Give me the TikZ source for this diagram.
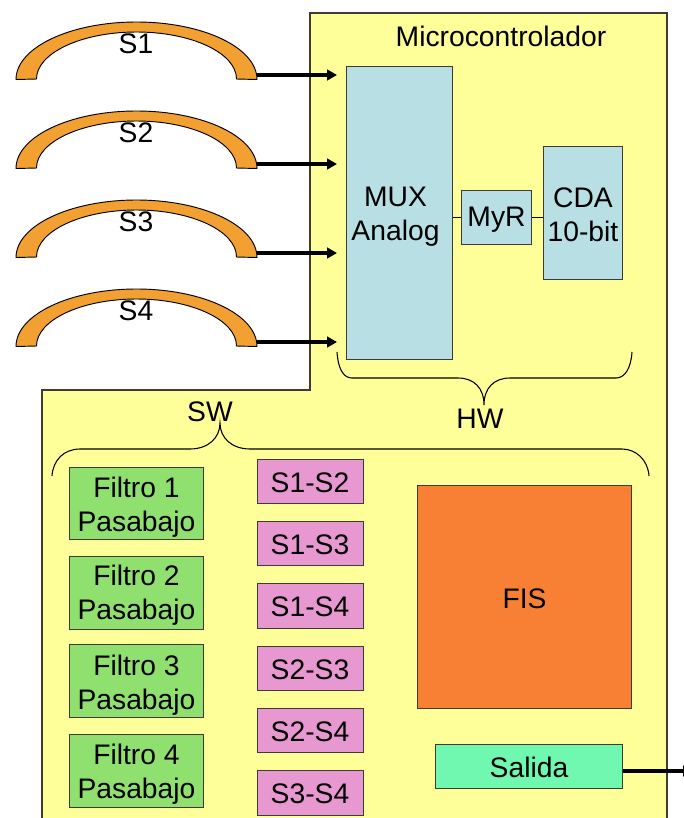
\documentclass[tikz,border=0pt]{standalone}
\usepackage{fontspec}
\setmainfont{Liberation Sans}
\usetikzlibrary{arrows.meta}
\definecolor{panelc}{RGB}{255,255,153}
\definecolor{bluec}{RGB}{184,224,228}
\definecolor{greenc}{RGB}{144,224,112}
\definecolor{pinkc}{RGB}{232,152,208}
\definecolor{orangec}{RGB}{248,128,52}
\definecolor{mintc}{RGB}{112,248,176}
\definecolor{arcc}{RGB}{242,160,50}
\definecolor{edgec}{RGB}{60,60,52}
\tikzset{
  x=0.75pt,y=-0.75pt,
  txt/.style={font=\fontsize{21.2}{25.5}\selectfont,text=black,align=center,inner sep=0pt},
  box/.style={txt,draw=edgec,line width=0.65pt,minimum width=#1*0.75pt-0.5pt},
  boxh/.style={minimum height=#1*0.75pt-0.5pt},
  sig/.style={line width=2.7pt,-{Triangle[length=7.5pt,width=8pt]}},
  wire/.style={line width=0.8pt,draw=black},
  brace/.style={line width=0.8pt,draw=black},
  arcshape/.style={fill=arcc,draw=black,line width=0.7pt}
}
\begin{document}
\begin{tikzpicture}
\useasboundingbox (0,0) rectangle (684,818);
\fill[white] (0,0) rectangle (684,818);
\filldraw[fill=panelc,draw=edgec,line width=0.9pt] (310,13) -- (667,13) -- (667,830) -- (42,830) -- (42,390) -- (310,390) -- cycle;
\node[txt] (title) at (501,36) {Microcontrolador};

\foreach \n/\dy in {1/0,2/89,3/178,4/267}{
  \begin{scope}[yshift=-\dy*0.75pt]
    \filldraw[arcshape] (16,79.5) .. controls (16,47.7) and (70,22) .. (136.5,22)
       .. controls (203,22) and (257,47.7) .. (257,79.5) -- (236.5,79) .. controls (236.5,53) and (191.5,32) .. (136.5,32)
       .. controls (81.5,32) and (36.5,53) .. (36.5,79) -- cycle;
    \node[txt] (s\n) at (136,44) {S\n};
    \coordinate (o\n) at (257,75);
    \coordinate (e\n) at (337,75);
  \end{scope}
  \draw[sig] (o\n) -- (e\n);
}

\node[box=107,boxh=294,fill=bluec,label={[txt,xshift=-3pt,yshift=-3pt]center:MUX\\Analog}] (mux) at (399.5,213) {};
\node[box=71,boxh=55,fill=bluec,label={[txt,yshift=-2pt]center:MyR}] (myr) at (496.5,217.5) {};
\node[box=80,boxh=134,fill=bluec,label={[txt,yshift=-1.5pt]center:CDA\\10-bit}] (cda) at (583,213) {};
\draw[wire] (mux.east |- myr.west) -- (myr.west);
\draw[wire] (myr.east) -- (cda.west |- myr.east);

\draw[brace] (337,352) .. controls (338,368) and (343,378) .. (352,378) -- (458,378)
  .. controls (474,378) and (484,388) .. (484,405)
  .. controls (484,388) and (494,378) .. (510,378) -- (616,378)
  .. controls (625,378) and (631,368) .. (632,352);
\node[txt] (hw) at (480,419) {HW};

\draw[brace] (52,476) .. controls (53,460) and (64,449) .. (80,449) -- (190,449)
  .. controls (208,449) and (220,438) .. (220,423)
  .. controls (220,438) and (232,449) .. (250,449) -- (622,449)
  .. controls (636,449) and (648,460) .. (649,476);
\node[txt] (sw) at (210,412) {SW};

\foreach \n/\y/\sh in {1/503.5/3pt,2/593/1.5pt,3/681/3pt,4/771/2.3pt}{
  \node[box=135,boxh=73,fill=greenc,label={[txt,yshift=-\sh]center:Filtro \n\\Pasabajo}] (f\n) at (136.5,\y) {};
}
\foreach \t/\nm/\y in {S1-S2/a/481.5,S1-S3/b/543.5,S1-S4/c/606,S2-S3/d/668.5,S2-S4/e/730.5,S3-S4/f/793}{
  \node[box=107,boxh=45,fill=pinkc,label={[txt,yshift=-0.75pt,xshift=-0.4pt]center:\t}] (p\nm) at (310.5,\y) {};
}
\node[box=215,boxh=224,fill=orangec,label={[txt,yshift=-1.5pt]center:FIS}] (fis) at (524.5,597) {};
\node[box=188,boxh=45,fill=mintc,label={[txt,yshift=-1pt]center:Salida}] (sal) at (529,766.5) {};
\coordinate (salout) at (693,771);
\draw[sig] (sal.east |- salout) -- (salout);
\end{tikzpicture}
\end{document}
